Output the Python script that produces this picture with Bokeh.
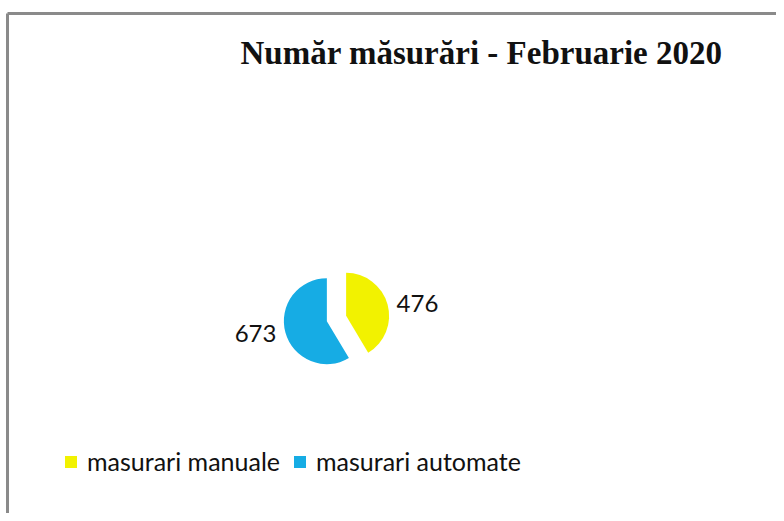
import math
from bokeh.plotting import figure
from bokeh.models import Range1d, ColumnDataSource, Legend, LegendItem, Label
from bokeh.embed import file_html
from bokeh.resources import INLINE

title_text = "Număr măsurări - Februarie 2020"
categories = ["masurari manuale", "masurari automate"]
values = [476, 673]
colors = ["#F2F200", "#16ACE4"]

W, H = 776, 513
# data coordinates: x = image x, y = 521 - image y
p = figure(width=W, height=H, output_backend="svg", toolbar_location=None,
           x_range=Range1d(0, 776), y_range=Range1d(8, 521), min_border=0)
p.axis.visible = False
p.grid.visible = False
p.outline_line_color = None
p.background_fill_color = "white"

# frame border (top and left visible)
p.line([7, 776], [521 - 13, 521 - 13], line_color="#8a8a8a", line_width=3)
p.line([7, 7], [0, 521 - 13], line_color="#8a8a8a", line_width=3)

total = sum(values)
cx, cy, r, explode = 336, 521 - 318, 43, 10
starts, ends, xs, ys, lx, ly = [], [], [], [], [], []
a = math.pi / 2
for v in values:
    sweep = 2 * math.pi * v / total
    s, e = a, a - sweep
    mid = (s + e) / 2
    starts.append(s); ends.append(e)
    x0 = cx + explode * math.cos(mid)
    y0 = cy + explode * math.sin(mid)
    xs.append(x0); ys.append(y0)
    lx.append(x0 + 74 * math.cos(mid)); ly.append(y0 + 46 * math.sin(mid))
    a = e

src = ColumnDataSource(dict(x=xs, y=ys, start=starts, end=ends, color=colors,
                            cat=categories, lx=lx, ly=ly,
                            lab=[str(v) for v in values]))
wr = p.wedge(x="x", y="y", radius=r, start_angle="start", end_angle="end",
             direction="clock", fill_color="color", line_color=None, source=src)

p.text(x="lx", y="ly", text="lab", source=src, text_align="center",
       text_baseline="middle", text_font={"value": "Lato"},
       text_font_size="24px", text_color="#111111")

p.add_layout(Label(x=481, y=521 - 52, text=title_text, text_align="center",
                   text_baseline="middle", text_font="Liberation Serif",
                   text_font_style="bold", text_font_size="33px",
                   text_color="#111111"))

legend = Legend(items=[LegendItem(label=categories[i], renderers=[wr], index=i)
                       for i in range(len(categories))],
                orientation="horizontal", location=(63, 37),
                label_text_font="Lato", label_text_font_size="25px",
                label_text_color="#111111",
                glyph_width=15, glyph_height=15, label_standoff=9,
                spacing=12, padding=0, margin=0,
                border_line_color=None, background_fill_alpha=0)
p.add_layout(legend, "center")

open("out.html", "w").write(file_html(p, INLINE))
